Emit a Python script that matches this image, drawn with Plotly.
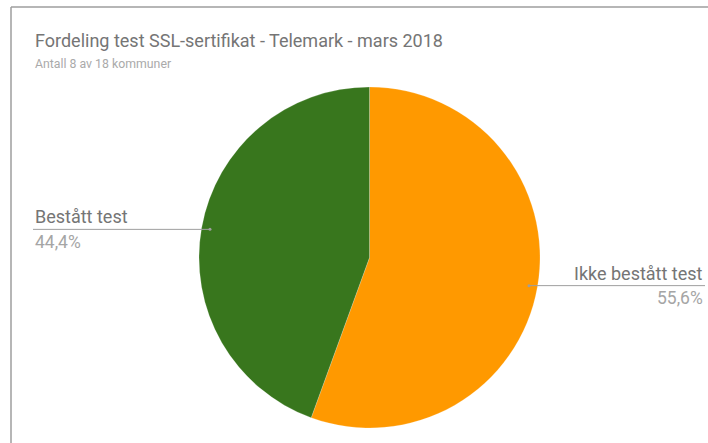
import numpy as np
import plotly.graph_objects as go

labels = ["Ikke bestått test", "Bestått test"]
values = [5, 4]
colors = ["#FF9900", "#38761D"]
pct_text = ["55,6%", "44,4%"]

title = "Fordeling test SSL-sertifikat - Telemark - mars 2018"
subtitle = "Antall 8 av 18 kommuner"

W, H = 708, 443
cx, cy, r = 369.5, 257.5, 170.5  # pixel geometry of pie

fig = go.Figure(go.Pie(
    labels=labels, values=values, sort=False, direction="clockwise", rotation=0,
    marker=dict(colors=colors, line=dict(color="rgba(255,255,255,0.4)", width=0.5)),
    textinfo="none", hoverinfo="label+percent", showlegend=False,
    domain=dict(x=[(cx - r) / W, (cx + r) / W], y=[1 - (cy + r) / H, 1 - (cy - r) / H]),
))

shapes = [
    dict(type="line", xref="paper", yref="paper", x0=11 / W, x1=1, y0=1 - 7 / H, y1=1 - 7 / H,
         line=dict(color="#9e9e9e", width=1.5)),
    dict(type="line", xref="paper", yref="paper", x0=11 / W, x1=11 / W, y0=0, y1=1 - 7 / H,
         line=dict(color="#9e9e9e", width=1.5)),
]
annotations = [
    dict(text=title, x=33 / W, y=1 - 41 / H, xref="paper", yref="paper", xanchor="left", yanchor="middle",
         showarrow=False, font=dict(family="Roboto", size=18, color="#757575")),
    dict(text=subtitle, x=33 / W, y=1 - 64 / H, xref="paper", yref="paper", xanchor="left", yanchor="middle",
         showarrow=False, font=dict(family="Roboto", size=12.3, color="#aaaaaa")),
]

total = sum(values)
start = 0.0
for lab, v, pt in zip(labels, values, pct_text):
    mid = (start + v / 2) / total * 2 * np.pi  # clockwise from top
    start += v
    dx, dy = np.sin(mid) * r * 0.95, -np.cos(mid) * r * 0.95
    px, py = cx + dx, cy + dy
    right = dx > 0
    edge = 705 if right else 33
    shapes.append(dict(type="line", xref="paper", yref="paper", x0=px / W, x1=edge / W,
                       y0=1 - py / H, y1=1 - py / H, line=dict(color="#9e9e9e", width=1)))
    shapes.append(dict(type="circle", xref="paper", yref="paper", x0=(px - 1.5) / W, x1=(px + 1.5) / W,
                       y0=1 - (py + 1.5) / H, y1=1 - (py - 1.5) / H,
                       line=dict(color="#9e9e9e", width=0), fillcolor="#9e9e9e"))
    anchor = "right" if right else "left"
    annotations.append(dict(text=lab, x=edge / W, y=1 - (py - 12.5) / H, xref="paper", yref="paper",
                            xanchor=anchor, yanchor="middle", showarrow=False,
                            font=dict(family="Roboto", size=18, color="#757575")))
    annotations.append(dict(text=pt, x=edge / W, y=1 - (py + 12.5) / H, xref="paper", yref="paper",
                            xanchor=anchor, yanchor="middle", showarrow=False,
                            font=dict(family="Roboto", size=17.5, color="#a5a5a5")))

fig.update_layout(
    width=W, height=H, margin=dict(l=0, r=0, t=0, b=0),
    paper_bgcolor="white", plot_bgcolor="white",
    shapes=shapes, annotations=annotations,
)
fig.write_html("out.html", config={"displayModeBar": False},
               post_script="document.body.style.margin='0';document.body.style.overflow='hidden';")
